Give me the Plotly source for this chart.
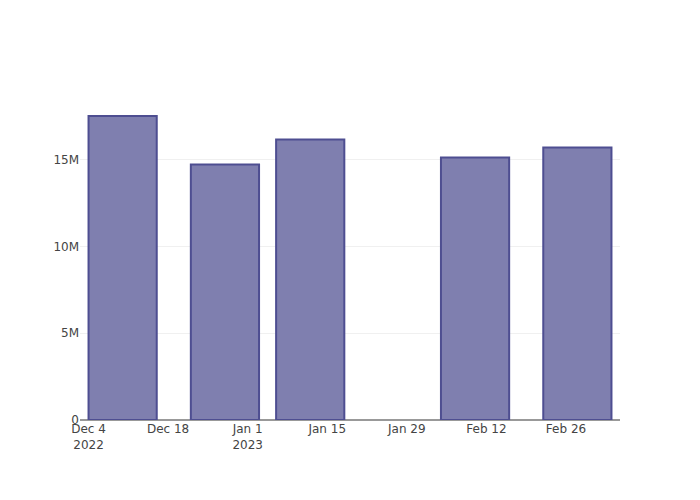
import plotly.graph_objects as go

dates = ["2022-12-10", "2022-12-28", "2023-01-12", "2023-02-10", "2023-02-28"]
volumes = [17.53e6, 14.73e6, 16.18e6, 15.14e6, 15.72e6]

fig = go.Figure()
fig.add_trace(
    go.Bar(
        x=dates,
        y=volumes,
        marker=dict(
            color="rgb(127,127,175)",
            line=dict(color="rgb(78,78,145)", width=2),
        ),
    )
)
# page body adds an 8px offset, so the margins are shifted to keep the plot area in place
fig.update_layout(
    template="none",
    width=700,
    height=500,
    margin=dict(l=72, r=88, t=92, b=88),
    font=dict(family="DejaVu Sans", size=12, color="#444"),
    xaxis=dict(type="date", showgrid=False),
    yaxis=dict(gridcolor="#f0f0f0", zerolinecolor="#999", zerolinewidth=1.5),
)
fig.write_html("out.html")
